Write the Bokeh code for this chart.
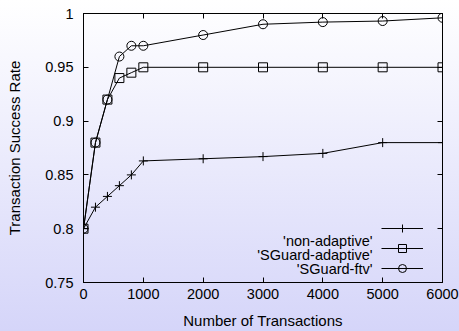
from bokeh.plotting import figure
from bokeh.models import (FixedTicker, CustomJSTickFormatter, LinearAxis, Legend,
                          LegendItem, Label, Range1d, GlobalInlineStyleSheet)
from bokeh.core.properties import value
from bokeh.embed import file_html
from bokeh.resources import INLINE

# ---- data ----
x_trans = [0, 200, 400, 600, 800, 1000, 2000, 3000, 4000, 5000, 6000]
non_adaptive = [0.800, 0.820, 0.830, 0.840, 0.850, 0.863, 0.865, 0.867, 0.870, 0.880, 0.880]
sguard_adaptive = [0.800, 0.880, 0.920, 0.940, 0.945, 0.950, 0.950, 0.950, 0.950, 0.950, 0.950]
sguard_ftv = [0.800, 0.880, 0.920, 0.960, 0.970, 0.970, 0.980, 0.990, 0.992, 0.993, 0.996]
series_names = ["'non-adaptive'", "'SGuard-adaptive'", "'SGuard-ftv'"]
x_ticks = [0, 1000, 2000, 3000, 4000, 5000, 6000]
y_ticks = [0.75, 0.80, 0.85, 0.90, 0.95, 1.0]

FONT = "Liberation Sans"
TICK_FS = "14.5px"
LABEL_FS = "15px"
FW, FH = 459, 331
ML, MR, MT, MB = 83, 17, 13, 49

p = figure(width=FW, height=FH, x_range=Range1d(0, 6000), y_range=Range1d(0.75, 1.0),
           output_backend="svg", toolbar_location=None,
           min_border_left=ML, min_border_right=MR, min_border_top=MT, min_border_bottom=MB,
           x_axis_label="Number of Transactions", y_axis_label="Transaction Success Rate")

p.stylesheets = [GlobalInlineStyleSheet(css="html{min-height:100%;background:linear-gradient(to bottom,#ffffff 0%,#d5d5f9 100%);} body{background:transparent;}")]
p.background_fill_alpha = 0
p.border_fill_alpha = 0
p.outline_line_color = "black"
p.outline_line_width = 1
p.grid.visible = False

fmt = CustomJSTickFormatter(code="return String(Math.round(tick*100)/100);")
for ax, ticks in ((p.xaxis[0], x_ticks), (p.yaxis[0], y_ticks)):
    ax.ticker = FixedTicker(ticks=ticks)
    ax.formatter = fmt
    ax.major_tick_in = 5
    ax.major_tick_out = 0
    ax.minor_tick_line_color = None
    ax.axis_line_color = "black"
    ax.major_tick_line_color = "black"
    ax.major_label_text_font = FONT
    ax.major_label_text_font_size = TICK_FS
    ax.major_label_text_color = "black"
    ax.axis_label_text_font = FONT
    ax.axis_label_text_font_size = LABEL_FS
    ax.axis_label_text_font_style = "normal"
    ax.axis_label_text_color = "black"
p.xaxis[0].major_label_standoff = 6
p.xaxis[0].axis_label_standoff = 10
p.yaxis[0].major_label_standoff = 10
p.yaxis[0].axis_label_standoff = 19

blank = CustomJSTickFormatter(code="return '';")
for loc, ticks in (("above", x_ticks), ("right", y_ticks)):
    ax = LinearAxis(ticker=FixedTicker(ticks=ticks), formatter=blank,
                    major_label_text_font_size="1px",
                    major_label_standoff=0, major_tick_in=5, major_tick_out=0,
                    minor_tick_line_color=None, axis_line_color="black",
                    major_tick_line_color="black")
    p.add_layout(ax, loc)

series = [non_adaptive, sguard_adaptive, sguard_ftv]
markers = ["cross", "square", "circle"]
items = []
for ys, mk in zip(series, markers):
    ln = p.line(x_trans, ys, line_color="black", line_width=1)
    sc = p.scatter(x_trans, ys, marker=mk, size=9, line_color="black", line_width=1,
                   fill_color=None)
    items.append(LegendItem(label=value(" "), renderers=[ln, sc]))

frame_w = FW - ML - MR
row_y = [42, 28, 14]
legend = Legend(items=items, location=(frame_w - 61, row_y[-1] - 10),
                glyph_width=42, glyph_height=20, spacing=-6, padding=0, margin=0,
                label_standoff=0, label_width=0, label_height=0,
                label_text_font_size="1px", border_line_alpha=0,
                background_fill_alpha=0)
p.add_layout(legend, "center")

for name, yy in zip(series_names, row_y):
    p.add_layout(Label(x=frame_w - 70, y=yy, x_units="screen", y_units="screen",
                       text=name, text_align="right", text_baseline="middle",
                       text_font=FONT, text_font_size=TICK_FS, text_color="black"))

open("out.html", "w").write(file_html(p, INLINE))
